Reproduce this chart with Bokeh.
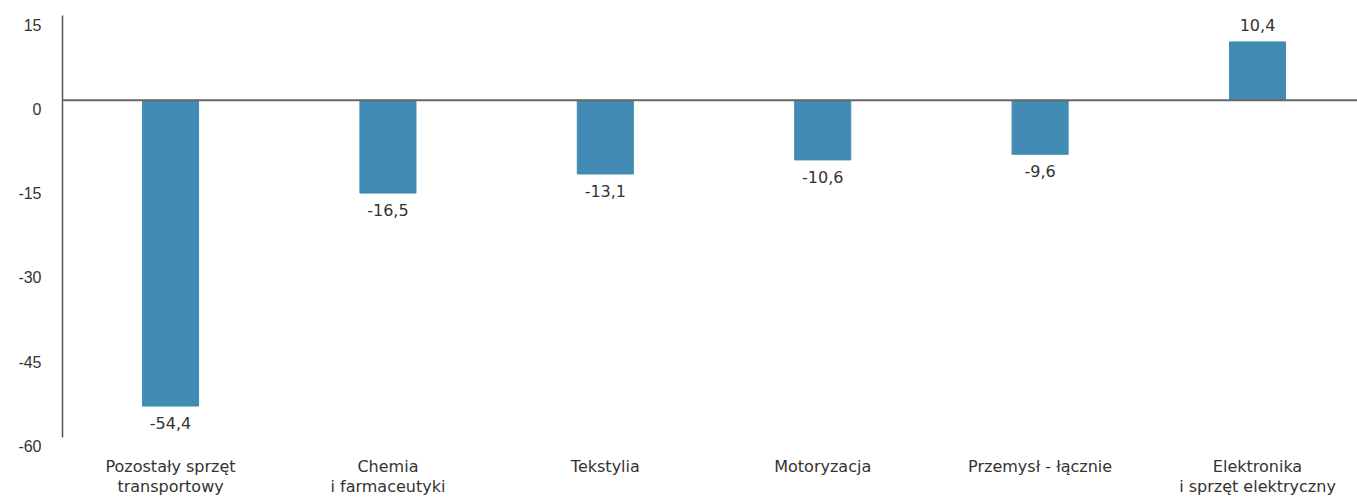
from bokeh.plotting import figure
from bokeh.models import ColumnDataSource, Span, FixedTicker, Range1d, LinearAxis
from bokeh.embed import file_html
from bokeh.resources import INLINE
from bokeh.core.properties import value

categories = ["Pozostały sprzęt\ntransportowy", "Chemia\ni farmaceutyki", "Tekstylia",
              "Motoryzacja", "Przemysł - łącznie", "Elektronika\ni sprzęt elektryczny"]
values = [-54.4, -16.5, -13.1, -10.6, -9.6, 10.4]
value_labels = ["-54,4", "-16,5", "-13,1", "-10,6", "-9,6", "10,4"]
y_ticks = [15, 0, -15, -30, -45, -60]
y_tick_labels = ["15", "0", "-15", "-30", "-45", "-60"]

BAR = "#428bb4"
TXT = "#333333"
AX = "#666666"
LABEL_FONT = "DejaVu Sans"

W, H = 1357, 497
LEFT, TOP = 62, 15
XMIN, XMAX = -0.497, 5.46
YMIN, YMAX = -60, 15.1
AXIS_PX = 422                      # pixel height of the value axis
PXU = AXIS_PX / (YMAX - YMIN)      # pixels per unit
YVIEW_MIN = YMAX - (H - TOP) / PXU # frame runs down to the bottom of the canvas
D = 8.5 / PXU                      # tick labels sit a little below their ticks

xs = list(range(len(categories)))
p = figure(width=W, height=H, output_backend="svg", toolbar_location=None,
           x_range=Range1d(XMIN, XMAX), y_range=Range1d(YVIEW_MIN, YMAX),
           min_border_left=LEFT, min_border_right=0, min_border_top=TOP, min_border_bottom=0,
           x_axis_location=None, y_axis_location=None)
p.outline_line_color = None
p.grid.visible = False
p.background_fill_color = "white"
p.border_fill_color = "white"

src = ColumnDataSource(dict(x=xs, top=values, lab=value_labels))
p.vbar(x="x", top="top", bottom=0, width=0.258, color=BAR, source=src)

neg = ColumnDataSource(dict(x=[x for x, v in zip(xs, values) if v < 0],
                            y=[v for v in values if v < 0],
                            t=[l for l, v in zip(value_labels, values) if v < 0]))
pos = ColumnDataSource(dict(x=[x for x, v in zip(xs, values) if v >= 0],
                            y=[v for v in values if v >= 0],
                            t=[l for l, v in zip(value_labels, values) if v >= 0]))
for s, base, off in [(neg, "top", 11), (pos, "bottom", -11)]:
    p.text(x="x", y="y", text="t", source=s, text_align="center", text_baseline=base,
           y_offset=off, text_font=value(LABEL_FONT), text_font_size="16px", text_color=TXT)

p.add_layout(Span(location=0, dimension="width", line_color=AX, line_width=2))

# y axis on a shifted range so its labels sit slightly below the tick values
p.extra_y_ranges = {"lab": Range1d(YVIEW_MIN + D, YMAX + D)}
yax = LinearAxis(y_range_name="lab", ticker=FixedTicker(ticks=y_ticks),
                 bounds=(YMIN + D, YMAX + D))
yax.major_label_overrides = {t: l for t, l in zip(y_ticks, y_tick_labels)}
yax.axis_line_color = "#555555"
yax.axis_line_width = 1.5
yax.major_tick_line_color = None
yax.minor_tick_line_color = None
yax.major_tick_out = 0
yax.major_tick_in = 0
yax.major_label_standoff = 21
yax.major_label_text_font = "Liberation Sans"
yax.major_label_text_font_size = "16px"
yax.major_label_text_color = TXT
p.add_layout(yax, "left")

# category labels under the value axis
line1 = [c.split("\n")[0] for c in categories]
line2 = [c.split("\n")[1] if "\n" in c else "" for c in categories]
for lines, off in [(line1, 29), (line2, 49)]:
    cs = ColumnDataSource(dict(x=xs, y=[YMIN] * len(xs), t=lines))
    p.text(x="x", y="y", text="t", source=cs, y_offset=off,
           text_align="center", text_baseline="middle",
           text_font=value(LABEL_FONT), text_font_size="16px", text_color=TXT)

open("out.html", "w").write(file_html(p, INLINE))
